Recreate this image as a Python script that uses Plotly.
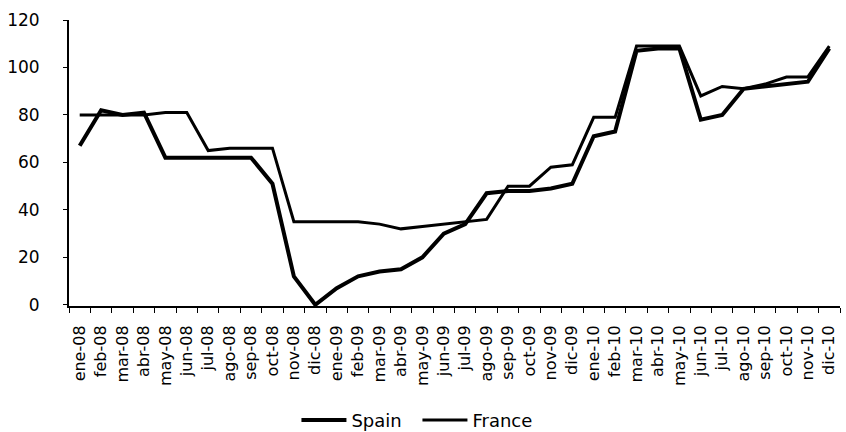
import plotly.graph_objects as go

months = ["ene-08","feb-08","mar-08","abr-08","may-08","jun-08","jul-08","ago-08","sep-08","oct-08","nov-08","dic-08",
          "ene-09","feb-09","mar-09","abr-09","may-09","jun-09","jul-09","ago-09","sep-09","oct-09","nov-09","dic-09",
          "ene-10","feb-10","mar-10","abr-10","may-10","jun-10","jul-10","ago-10","sep-10","oct-10","nov-10","dic-10"]

spain = [67, 82, 80, 81, 62, 62, 62, 62, 62, 51, 12, 0,
         7, 12, 14, 15, 20, 30, 34, 47, 48, 48, 49, 51,
         71, 73, 107, 108, 108, 78, 80, 91, 92, 93, 94, 108]

france = [80, 80, 80, 80, 81, 81, 65, 66, 66, 66, 35, 35,
          35, 35, 34, 32, 33, 34, 35, 36, 50, 50, 58, 59,
          79, 79, 109, 109, 109, 88, 92, 91, 93, 96, 96, 109]

y_ticks = [0, 20, 40, 60, 80, 100, 120]

fig = go.Figure()
fig.add_trace(go.Scatter(x=months, y=spain, name="Spain", mode="lines",
                         line=dict(color="black", width=4)))
fig.add_trace(go.Scatter(x=months, y=france, name="France", mode="lines",
                         line=dict(color="black", width=3)))

font_family = "DejaVu Sans"
fig.update_layout(
    width=846, height=445,
    margin=dict(l=69, r=6, t=20, b=131),
    paper_bgcolor="white", plot_bgcolor="white",
    font=dict(family=font_family, color="black", size=16),
    showlegend=True,
    legend=dict(orientation="h", x=0.295, xanchor="left", y=-0.40, yanchor="middle",
                font=dict(size=18, family=font_family), bgcolor="rgba(0,0,0,0)",
                itemwidth=45, entrywidth=61, entrywidthmode="pixels"),
    xaxis=dict(
        type="category", range=[-0.5, 35.5], automargin=False,
        showgrid=False, showline=True, linecolor="black", linewidth=2,
        ticks="outside", tickson="boundaries", ticklen=5, tickcolor="black", tickwidth=1,
        tickangle=-90, tickfont=dict(size=16, family=font_family),
        ticklabelstandoff=11, zeroline=False,
    ),
    yaxis=dict(
        range=[-0.5, 120], tickvals=y_ticks, automargin=False,
        showgrid=False, showline=True, linecolor="black", linewidth=2,
        ticks="outside", ticklen=4, tickcolor="black", tickwidth=1,
        tickfont=dict(size=17, family=font_family), ticklabelstandoff=20,
        zeroline=False,
    ),
)

post = ("document.documentElement.style.overflow='hidden';"
        "document.body.style.margin='0';"
        "document.body.style.padding='0';"
        "document.body.style.overflow='hidden';")

fig.write_html("out.html", config={"displayModeBar": False}, post_script=post)
